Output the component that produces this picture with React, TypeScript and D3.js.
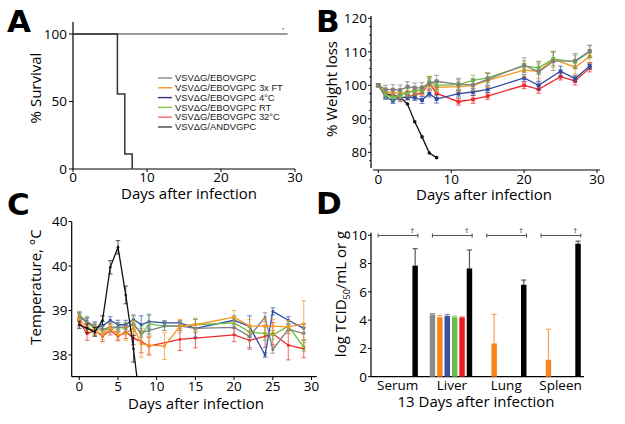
import React from "react";
import * as d3 from "d3";

// ---------- shared ----------
const seriesNames = ["VSVΔG/EBOVGPC", "VSVΔG/EBOVGPC 3x FT", "VSVΔG/EBOVGPC 4°C", "VSVΔG/EBOVGPC RT", "VSVΔG/EBOVGPC 32°C", "VSVΔG/ANDVGPC"];
const legendColors = ["#8a8a8a", "#f7941d", "#2e3192", "#8dc63f", "#f26d6d", "#444444"];
const lineColors = ["#7f7f7f", "#f7941d", "#2e4ea3", "#6cbe45", "#ee2a2a", "#111111"];

// ---------- A: survival ----------
const survDaysGray = [0, 29];
const survPctGray = [100, 100];
const survDaysAndv = [0, 6, 7, 8];
const survPctAndv = [100, 55.6, 11.1, 0];
const survTicksX = [0, 10, 20, 30];
const survTicksY = [0, 50, 100];

// ---------- B: weight ----------
const daysB = [0, 1, 2, 3, 4, 5, 6, 7, 8, 11, 13, 15, 20, 22, 24, 27, 29];
const daysB25 = [0, 1, 2, 3, 4, 5, 6, 7, 8, 11, 13, 15, 20, 22, 25, 27, 29];
const daysBAndv = [0, 1, 2, 3, 4, 5, 6, 7, 8];
const wGray = [100, 98.8, 98.7, 98.6, 99.6, 99.2, 99.3, 100.6, 101.2, 100.3, 100.1, 101.8, 106.0, 104.0, 107.2, 107.3, 110.2];
const wOrange = [100, 98.0, 97.8, 97.6, 98.0, 98.3, 98.4, 100.4, 99.4, 99.6, 99.9, 101.5, 104.5, 104.2, 107.8, 105.4, 108.6];
const wBlue = [100, 96.6, 95.4, 96.4, 96.4, 96.3, 95.6, 97.5, 95.9, 97.5, 98.0, 98.8, 102.2, 100.0, 104.2, 102.0, 105.8];
const wGreen = [100, 97.2, 96.4, 97.0, 97.8, 98.5, 98.6, 101.2, 100.0, 100.2, 101.5, 102.2, 105.8, 105.2, 107.9, 107.0, 110.0];
const wRed = [100, 97.2, 96.8, 96.2, 96.6, 97.1, 97.8, 100.6, 97.6, 95.1, 95.8, 96.8, 100.0, 98.8, 102.6, 101.3, 105.2];
const wAndv = [100, 97.5, 97.0, 96.5, 94.4, 89.1, 84.6, 79.8, 78.4];
const eGray = [0.4, 1.2, 1.5, 1.5, 1.5, 1.5, 1.5, 1.5, 1.8, 1.8, 1.8, 1.8, 2.2, 3.0, 2.8, 2.2, 1.8];
const eOrange = [0.4, 1.0, 1.2, 1.2, 1.2, 1.2, 1.2, 2.0, 1.5, 1.5, 1.5, 2.2, 2.0, 2.2, 2.4, 2.0, 2.0];
const eBlue = [0.4, 0.8, 0.8, 0.8, 0.8, 0.8, 1.0, 1.0, 1.2, 1.0, 1.0, 1.0, 1.0, 1.2, 1.5, 1.0, 1.0];
const eGreen = [0.4, 1.0, 1.0, 1.0, 1.2, 1.2, 1.2, 1.5, 1.5, 1.5, 1.5, 1.5, 1.5, 2.0, 2.0, 2.0, 1.8];
const eRed = [0.4, 0.8, 1.0, 1.0, 0.8, 0.8, 1.0, 2.0, 1.2, 1.0, 1.2, 1.0, 1.0, 1.2, 1.0, 1.2, 1.2];
const eAndv = [0.3, 0.4, 0.4, 0.4, 0.4, 0.4, 0.4, 0.3, 0.3];
const weightTicksX = [0, 10, 20, 30];
const weightTicksY = [80, 90, 100, 110, 120];

// ---------- C: temperature ----------
const daysC = [0, 1, 2, 3, 4, 5, 6, 7, 8, 9, 11, 13, 15, 20, 22, 24, 25, 27, 29];
const daysCAndv = [0, 1, 2, 3, 4, 5, 6, 7, 8];
const tGray = [38.85, 38.75, 38.65, 38.58, 38.62, 38.63, 38.62, 38.68, 38.5, 38.55, 38.65, 38.65, 38.6, 38.62, 38.42, 38.85, 38.12, 38.58, 38.48];
const tOrange = [38.8, 38.62, 38.55, 38.45, 38.62, 38.45, 38.48, 38.62, 38.25, 38.22, 38.2, 38.65, 38.68, 38.85, 38.65, 38.65, 38.65, 38.63, 38.7];
const tBlue = [38.88, 38.72, 38.62, 38.65, 38.78, 38.68, 38.68, 38.8, 38.68, 38.75, 38.72, 38.72, 38.6, 38.78, 38.64, 38.0, 38.98, 38.78, 38.6];
const tGreen = [38.9, 38.75, 38.58, 38.55, 38.6, 38.62, 38.6, 38.72, 38.45, 38.7, 38.65, 38.65, 38.68, 38.72, 38.52, 38.48, 38.45, 38.65, 38.18];
const tRed = [38.75, 38.48, 38.55, 38.42, 38.55, 38.42, 38.52, 38.38, 38.3, 38.2, null, 38.35, 38.38, 38.45, 38.33, 38.42, 38.48, 38.22, 38.14];
const tAndv = [38.68, 38.6, 38.52, 38.78, 39.97, 40.42, 39.35, 38.14, 36.7];
const etGray = [0.08, 0.1, 0.1, 0.08, 0.1, 0.1, 0.1, 0.1, 0.1, 0.1, 0.1, 0.1, 0.1, 0.15, 0.25, 0.1, 0.08, 0.1, 0.15];
const etOrange = [0.1, 0.1, 0.1, 0.1, 0.1, 0.1, 0.15, 0.15, 0.3, 0.2, 0.3, 0.15, 0.15, 0.15, 0.15, 0.15, 0.15, 0.15, 0.52];
const etBlue = [0.08, 0.1, 0.1, 0.1, 0.08, 0.1, 0.1, 0.1, 0.2, 0.15, 0.05, 0.05, 0.2, 0.1, 0.24, 0.05, 0.08, 0.08, 0.1];
const etGreen = [0.08, 0.12, 0.1, 0.1, 0.1, 0.1, 0.12, 0.15, 0.2, 0.22, 0.1, 0.1, 0.12, 0.1, 0.1, 0.15, 0.1, 0.12, 0.1];
const etRed = [0.1, 0.15, 0.1, 0.12, 0.1, 0.1, 0.15, 0.15, 0.25, 0.2, 0, 0.25, 0.22, 0.15, 0.2, 0.25, 0.25, 0.33, 0.2];
const etAndv = [0.08, 0.1, 0.1, 0.1, 0.15, 0.15, 0.2, 0.3, 0.1];
const tempTicksX = [0, 5, 10, 15, 20, 25, 30];
const tempTicksY = [38, 39, 40, 41];
const tempTickLabels = ["38", "39", "40", "40"];

// ---------- D: titers ----------
const organs = ["Serum", "Liver", "Lung", "Spleen"];
const barGray = [null, 4.4, null, null];
const barOrange = [null, 4.2, 2.35, 1.2];
const barBlue = [null, 4.3, null, null];
const barGreen = [null, 4.2, null, null];
const barRed = [null, 4.18, null, null];
const barAndv = [7.85, 7.65, 6.5, 9.4];
const ebGray = [0, 0.06, 0, 0];
const ebOrange = [0, 0.12, 2.05, 2.15];
const ebBlue = [0, 0.1, 0, 0];
const ebGreen = [0, 0.08, 0, 0];
const ebRed = [0, 0.04, 0, 0];
const ebAndv = [1.2, 1.3, 0.33, 0.18];
const titerTicksY = [0, 2, 4, 6, 8, 10];
const barColors = ["#8c8c8c", "#f7861f", "#3953a4", "#6abd45", "#ed1c24", "#000000"];
const barErrColors = ["#9a9a9a", "#f7a25a", "#7b8fd0", "#8fd070", "#f06060", "#555555"];

const FONT = "'Open Sans', 'DejaVu Sans', sans-serif";
const TICK = 13.5;
const LABEL = 15;

function Title({ x, y, t }) {
  return (
    <text x={x} y={y} fontFamily="'DejaVu Sans', sans-serif" fontWeight={900} fontSize={31} fill="#000">
      {t}
    </text>
  );
}

function LineSeries({ xs, ys, es, x, y, color, marker, ms, cap, clip }) {
  const pts = xs.map((d, i) => ({ d, v: ys[i], e: es[i] })).filter((p) => p.v !== null && p.v !== undefined);
  const line = d3.line().x((p) => x(p.d)).y((p) => y(p.v));
  return (
    <g clipPath={clip}>
      {pts.map((p, i) => (
        <g key={"e" + i} stroke={color} strokeOpacity={0.7} strokeWidth={1}>
          <line x1={x(p.d)} x2={x(p.d)} y1={y(p.v - p.e)} y2={y(p.v + p.e)} />
          <line x1={x(p.d) - cap} x2={x(p.d) + cap} y1={y(p.v - p.e)} y2={y(p.v - p.e)} />
          <line x1={x(p.d) - cap} x2={x(p.d) + cap} y1={y(p.v + p.e)} y2={y(p.v + p.e)} />
        </g>
      ))}
      <path d={line(pts)} fill="none" stroke={color} strokeWidth={1.3} />
      {pts.map((p, i) =>
        marker === "circle" ? (
          <circle key={"m" + i} cx={x(p.d)} cy={y(p.v)} r={ms / 2} fill={color} />
        ) : (
          <rect key={"m" + i} x={x(p.d) - ms / 2} y={y(p.v) - ms / 2} width={ms} height={ms} fill={color} />
        )
      )}
    </g>
  );
}

function PanelA() {
  const x = d3.scaleLinear([0, 30], [73, 295]);
  const y = d3.scaleLinear([0, 100], [169, 34]);
  const line = d3.line().x((p) => x(p[0])).y((p) => y(p[1]));
  const stepLine = d3.line().x((p) => x(p[0])).y((p) => y(p[1])).curve(d3.curveStepAfter);
  return (
    <g>
      <Title x={7} y={32} t="A" />
      <line x1={73} x2={73} y1={169} y2={22} stroke="#000" strokeWidth={1.2} />
      <line x1={73} x2={295} y1={169} y2={169} stroke="#000" strokeWidth={1.2} />
      {survTicksY.map((t) => (
        <g key={t}>
          <line x1={69} x2={73} y1={y(t)} y2={y(t)} stroke="#000" />
          <text x={67} y={y(t)} dy="0.36em" textAnchor="end" fontFamily={FONT} fontSize={TICK}>{t}</text>
        </g>
      ))}
      {survTicksX.map((t) => (
        <g key={t}>
          <line x1={x(t)} x2={x(t)} y1={169} y2={172} stroke="#000" />
          <text x={x(t)} y={182} textAnchor="middle" fontFamily={FONT} fontSize={TICK}>{t}</text>
        </g>
      ))}
      <text x={189} y={199} textAnchor="middle" fontFamily={FONT} fontSize={LABEL}>Days after infection</text>
      <text transform="translate(36,88) rotate(-90)" textAnchor="middle" dy="0.35em" fontFamily={FONT} fontSize={LABEL}>% Survival</text>
      <path d={line(survDaysGray.map((d, i) => [d, survPctGray[i]]))} fill="none" stroke="#7a7a7a" strokeWidth={1.5} />
      <path d={stepLine(survDaysAndv.map((d, i) => [d, survPctAndv[i]]))} fill="none" stroke="#333" strokeWidth={1.5} />
      <circle cx={x(28.4)} cy={y(103.8)} r={0.8} fill="#555" />
      {seriesNames.map((n, i) => (
        <g key={n}>
          <line x1={158} x2={172} y1={78 + i * 9.8} y2={78 + i * 9.8} stroke={legendColors[i]} strokeWidth={1.4} />
          <text x={175} y={78 + i * 9.8} dy="0.35em" fontFamily="'Liberation Sans', Arial, sans-serif" fontSize={9.4} fill="#222">{n}</text>
        </g>
      ))}
    </g>
  );
}

function PanelB() {
  const x = d3.scaleLinear([0, 30], [378.3, 597]);
  const y = d3.scaleLinear([80, 120], [152.3, 18.3]);
  const minor = d3.range(77.5, 120.1, 2.5).filter((v) => v % 10 !== 0);
  const sets = [
    { xs: daysB25, ys: wRed, es: eRed, c: lineColors[4] },
    { xs: daysB25, ys: wBlue, es: eBlue, c: lineColors[2] },
    { xs: daysB, ys: wOrange, es: eOrange, c: lineColors[1] },
    { xs: daysB, ys: wGreen, es: eGreen, c: lineColors[3] },
    { xs: daysB, ys: wGray, es: eGray, c: lineColors[0] },
  ];
  return (
    <g>
      <Title x={316} y={32} t="B" />
      <line x1={371} x2={371} y1={168} y2={16} stroke="#000" strokeWidth={1.2} />
      <line x1={373} x2={600} y1={170} y2={170} stroke="#000" strokeWidth={1.2} />
      {weightTicksY.map((t) => (
        <g key={t}>
          <line x1={368} x2={371} y1={y(t)} y2={y(t)} stroke="#000" />
          <text x={367} y={y(t)} dy="0.36em" textAnchor="end" fontFamily={FONT} fontSize={TICK}>{t}</text>
        </g>
      ))}
      {minor.map((t) => (
        <line key={t} x1={369} x2={371} y1={y(t)} y2={y(t)} stroke="#000" strokeWidth={0.8} />
      ))}
      {weightTicksX.map((t) => (
        <g key={t}>
          <line x1={x(t)} x2={x(t)} y1={170} y2={173} stroke="#000" />
          <text x={x(t)} y={184} textAnchor="middle" fontFamily={FONT} fontSize={TICK}>{t}</text>
        </g>
      ))}
      <text x={484} y={200} textAnchor="middle" fontFamily={FONT} fontSize={LABEL}>Days after infection</text>
      <text transform="translate(332,89) rotate(-90)" textAnchor="middle" dy="0.35em" fontFamily={FONT} fontSize={LABEL}>% Weight loss</text>
      <LineSeries xs={daysBAndv} ys={wAndv} es={eAndv} x={x} y={y} color={lineColors[5]} marker="circle" ms={3.6} cap={0} />
      {sets.map((s, i) => (
        <LineSeries key={i} xs={s.xs} ys={s.ys} es={s.es} x={x} y={y} color={s.c} marker="square" ms={3.8} cap={2.5} />
      ))}
    </g>
  );
}

function PanelC() {
  const x = d3.scaleLinear([0, 30], [79.3, 311.5]);
  const y = d3.scaleLinear([38, 41], [355, 221.5]);
  const sets = [
    { ys: tRed, es: etRed, c: lineColors[4] },
    { ys: tBlue, es: etBlue, c: lineColors[2] },
    { ys: tGreen, es: etGreen, c: lineColors[3] },
    { ys: tGray, es: etGray, c: lineColors[0] },
    { ys: tOrange, es: etOrange, c: lineColors[1] },
  ];
  return (
    <g>
      <defs>
        <clipPath id="clipC">
          <rect x={72} y={210} width={250} height={166} />
        </clipPath>
      </defs>
      <Title x={7} y={215} t="C" />
      <line x1={71.7} x2={71.7} y1={221.5} y2={376.7} stroke="#000" strokeWidth={1.2} />
      <line x1={71.7} x2={316.7} y1={376.7} y2={376.7} stroke="#000" strokeWidth={1.2} />
      {tempTicksY.map((t, i) => (
        <g key={t}>
          <line x1={68.5} x2={71.7} y1={y(t)} y2={y(t)} stroke="#000" />
          <text x={67.5} y={y(t)} dy="0.36em" textAnchor="end" fontFamily={FONT} fontSize={TICK}>{tempTickLabels[i]}</text>
        </g>
      ))}
      {tempTicksX.map((t) => (
        <g key={t}>
          <line x1={x(t)} x2={x(t)} y1={376.7} y2={380} stroke="#000" />
          <text x={x(t)} y={390.5} textAnchor="middle" fontFamily={FONT} fontSize={TICK}>{t}</text>
        </g>
      ))}
      <text x={196} y={409} textAnchor="middle" fontFamily={FONT} fontSize={LABEL}>Days after infection</text>
      <text transform="translate(36,287) rotate(-90)" textAnchor="middle" dy="0.35em" fontFamily={FONT} fontSize={LABEL}>Temperature, °C</text>
      {sets.map((s, i) => (
        <LineSeries key={i} xs={daysC} ys={s.ys} es={s.es} x={x} y={y} color={s.c} marker="square" ms={2.6} cap={2.3} clip="url(#clipC)" />
      ))}
      <LineSeries xs={daysCAndv} ys={tAndv} es={etAndv} x={x} y={y} color={lineColors[5]} marker="circle" ms={2.6} cap={2.3} clip="url(#clipC)" />
    </g>
  );
}

function PanelD() {
  const y = d3.scaleLinear([0, 10], [376.7, 235.2]);
  const xg = d3.scaleBand(organs, [369.5, 586.7]).padding(0);
  const xs = d3.scaleBand(d3.range(6), [0, xg.bandwidth()]).paddingInner(0.26).paddingOuter(0.8);
  const vals = [barGray, barOrange, barBlue, barGreen, barRed, barAndv];
  const errs = [ebGray, ebOrange, ebBlue, ebGreen, ebRed, ebAndv];
  return (
    <g>
      <Title x={316} y={214} t="D" />
      <line x1={371} x2={371} y1={376.7} y2={232.7} stroke="#000" strokeWidth={1.2} />
      <line x1={371} x2={584} y1={376.7} y2={376.7} stroke="#000" strokeWidth={1.2} />
      {titerTicksY.map((t) => (
        <g key={t}>
          <line x1={368} x2={371} y1={y(t)} y2={y(t)} stroke="#000" />
          <text x={367} y={y(t)} dy="0.36em" textAnchor="end" fontFamily={FONT} fontSize={TICK}>{t}</text>
        </g>
      ))}
      {organs.map((o) => (
        <text key={o} x={xg(o) + xg.bandwidth() / 2 + 1} y={389.5} textAnchor="middle" fontFamily={FONT} fontSize={TICK}>{o}</text>
      ))}
      <text x={476} y={406.5} textAnchor="middle" fontFamily={FONT} fontSize={LABEL}>13 Days after infection</text>
      <text transform="translate(341,294) rotate(-90)" textAnchor="middle" dy="0.35em" fontFamily={FONT} fontSize={LABEL}>
        log TCID<tspan fontSize={9} dy="4">50</tspan><tspan dy="-4">/mL or g</tspan>
      </text>
      {organs.map((o, gi) => (
        <g key={o}>
          {vals.map((arr, si) => {
            const v = arr[gi];
            if (v === null) return null;
            const bx = xg(o) + xs(si);
            const cx = bx + xs.bandwidth() / 2;
            const top = y(v + errs[si][gi]);
            return (
              <g key={si}>
                <line x1={cx} x2={cx} y1={y(v)} y2={top} stroke={barErrColors[si]} strokeWidth={1.2} />
                <line x1={cx - 2.5} x2={cx + 2.5} y1={top} y2={top} stroke={barErrColors[si]} strokeWidth={1.2} />
                <rect x={bx} y={y(v)} width={xs.bandwidth()} height={y(0) - y(v)} fill={barColors[si]} />
              </g>
            );
          })}
          {(() => {
            const x1 = xg(o) + xs(0) + xs.bandwidth() / 2;
            const x2 = xg(o) + xs(5) + xs.bandwidth();
            const yy = y(10) + 0.3;
            return (
              <g stroke="#555" strokeWidth={1.1}>
                <line x1={x1} x2={x2} y1={yy} y2={yy} />
                <line x1={x1} x2={x1} y1={yy - 2} y2={yy + 2} />
                <line x1={x2} x2={x2} y1={yy - 2} y2={yy + 2} />
                <text x={x2 - 5.5} y={yy - 2.5} textAnchor="middle" fontFamily={FONT} fontSize={8} fill="#333" stroke="none">†</text>
              </g>
            );
          })()}
        </g>
      ))}
    </g>
  );
}

export default function App() {
  return (
    <svg width={625} height={424} style={{ position: "absolute", left: 0, top: 0, background: "#fff" }}>
      <rect width={625} height={424} fill="#fff" />
      <PanelA />
      <PanelB />
      <PanelC />
      <PanelD />
    </svg>
  );
}
